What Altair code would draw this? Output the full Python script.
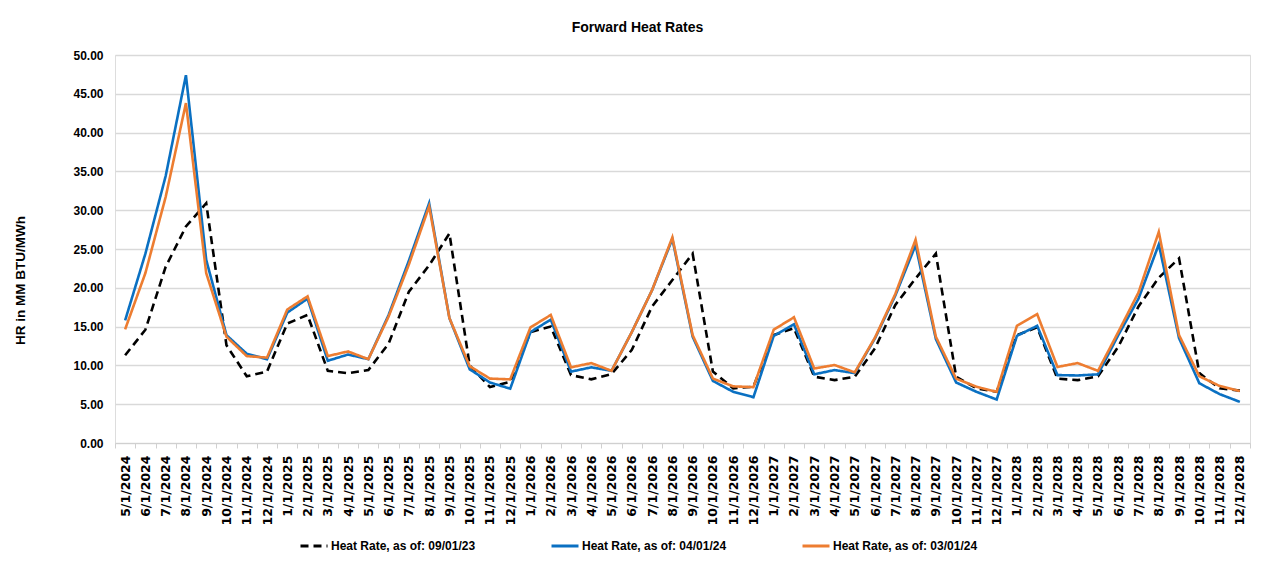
import altair as alt
import pandas as pd

months = [f"{m}/1/{y}" for y in range(2024, 2029) for m in range(1, 13)][4:]

series_names = [
    "Heat Rate, as of: 09/01/23",
    "Heat Rate, as of: 04/01/24",
    "Heat Rate, as of: 03/01/24",
]

hr_090123 = [
    11.3, 14.6, 22.7, 27.9, 30.9, 12.6, 8.6, 9.2,
    15.4, 16.5, 9.3, 9.0, 9.4, 12.8, 19.5, 22.9, 27.0, 10.0, 7.2, 7.9,
    14.3, 15.0, 8.75, 8.2, 8.9, 12.0, 17.6, 21.0, 24.4, 9.2, 7.05, 7.25,
    13.9, 14.8, 8.55, 8.1, 8.55, 12.2, 17.8, 21.2, 24.4, 8.55, 7.05, 6.6,
    13.9, 14.9, 8.3, 8.1, 8.6, 12.4, 17.6, 21.3, 23.8, 9.0, 7.05, 6.75,
]
hr_040124 = [
    15.8, 24.4, 34.4, 47.4, 23.6, 13.9, 11.5, 10.8,
    16.8, 18.6, 10.6, 11.4, 10.8, 16.5, 23.5, 30.9, 16.1, 9.5, 7.8, 7.0,
    14.3, 15.9, 9.2, 9.75, 9.3, 14.3, 19.7, 26.3, 13.7, 8.0, 6.6, 5.9,
    13.8, 15.3, 8.85, 9.4, 9.0, 13.5, 19.0, 25.5, 13.4, 7.8, 6.6, 5.6,
    13.8, 15.1, 8.75, 8.7, 8.85, 13.9, 18.6, 25.6, 13.5, 7.7, 6.3, 5.3,
]
hr_030124 = [
    14.65, 21.9, 31.7, 43.8, 21.9, 13.7, 11.2, 11.0,
    17.2, 18.9, 11.2, 11.8, 10.8, 16.3, 23.0, 30.5, 16.1, 9.9, 8.3, 8.2,
    14.9, 16.5, 9.75, 10.3, 9.3, 14.3, 19.7, 26.5, 13.9, 8.3, 7.3, 7.2,
    14.6, 16.2, 9.6, 10.05, 9.1, 13.6, 19.2, 26.2, 13.7, 8.3, 7.25, 6.6,
    15.1, 16.6, 9.8, 10.3, 9.3, 14.3, 19.4, 27.2, 13.9, 8.6, 7.35, 6.7,
]

rows = []
for name, vals in zip(series_names, [hr_090123, hr_040124, hr_030124]):
    for i, (m, v) in enumerate(zip(months, vals)):
        rows.append({"month": m, "idx": i, "series": name, "value": v})
df = pd.DataFrame(rows)

narrow = "Liberation Sans, Arial, sans-serif"
wide = "DejaVu Sans, Verdana, sans-serif"

chart = (
    alt.Chart(df)
    .mark_line(strokeWidth=2.6)
    .encode(
        x=alt.X(
            "month:O",
            sort=months,
            bandPosition=0.5,
            scale=alt.Scale(type="band", paddingInner=0, paddingOuter=0),
            axis=alt.Axis(
                title=None,
                labelAngle=-90,
                labelFont=wide,
                labelFontSize=12.5,
                labelFontWeight="bold",
                labelColor="#000000",
                tickBand="extent",
                tickSize=5,
                tickColor="#d0d0d0",
                domainColor="#d0d0d0",
                labelPadding=7,
                grid=False,
            ),
        ),
        y=alt.Y(
            "value:Q",
            scale=alt.Scale(domain=[0, 50], nice=False),
            axis=alt.Axis(
                title="HR in MM BTU/MWh",
                values=list(range(0, 51, 5)),
                format=".2f",
                labelFont=narrow,
                labelFontSize=12,
                labelFontWeight="bold",
                labelColor="#000000",
                labelPadding=12,
                ticks=False,
                domain=False,
                gridColor="#d9d9d9",
                gridWidth=1.3,
                titleFont=narrow,
                titleFontSize=13.5,
                titleFontWeight="bold",
                titleColor="#000000",
                titleX=-95,
                titleY=225,
                titleAlign="center",
                titleBaseline="middle",
            ),
        ),
        color=alt.Color(
            "series:N",
            sort=series_names,
            scale=alt.Scale(domain=series_names, range=["#000000", "#0A70C2", "#ED7D31"]),
            legend=alt.Legend(
                title=None,
                orient="none",
                legendX=184,
                legendY=476,
                direction="horizontal",
                columns=3,
                gridAlign="all",
                columnPadding=69,
                padding=0,
                symbolType="stroke",
                symbolSize=729,
                symbolStrokeWidth=3,
                labelFont=narrow,
                labelFontSize=12,
                labelFontWeight="bold",
                labelColor="#000000",
                labelOffset=2,
                labelLimit=300,
            ),
        ),
        strokeDash=alt.StrokeDash(
            "series:N",
            sort=series_names,
            scale=alt.Scale(domain=series_names, range=[[8, 5], [1, 0], [1, 0]]),
            legend=alt.Legend(title=None),
        ),
        order="idx:Q",
    )
    .properties(
        width=1135,
        height=388,
        title=alt.TitleParams(
            "Forward Heat Rates",
            font=narrow,
            fontSize=14,
            fontWeight="bold",
            color="#000000",
            anchor="middle",
            dx=-45,
            offset=14,
        ),
        autosize=alt.AutoSizeParams(type="none"),
        padding={"left": 107, "top": 47, "right": 8, "bottom": 113},
    )
    .configure_view(stroke=None)
    .configure(background="#ffffff")
)

chart.save("out.html", embed_options={"renderer": "svg", "actions": False})
